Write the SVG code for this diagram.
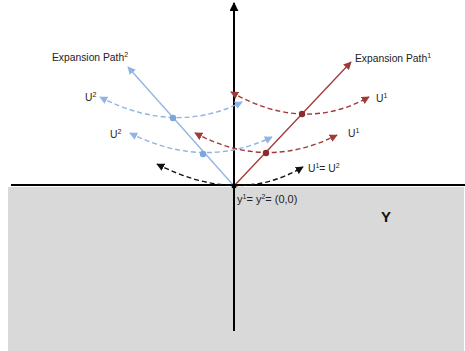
<svg xmlns="http://www.w3.org/2000/svg" width="465" height="351" viewBox="0 0 465 351">
<defs>
<style>
text{font-family:"Liberation Sans",Arial,sans-serif;font-size:10.3px;fill:#222}
.sup{font-size:7px}
.dash{fill:none;stroke-width:1.4;stroke-dasharray:5 3}
.red{stroke:#a0393a}
.blue{stroke:#8fb4e3}
.blk{stroke:#111}
</style>
<marker id="ar" viewBox="0 0 10 10" refX="9" refY="5" markerWidth="8" markerHeight="8" markerUnits="userSpaceOnUse" orient="auto-start-reverse"><path d="M0,0L10,5L0,10z" fill="#a0393a"/></marker>
<marker id="ab" viewBox="0 0 10 10" refX="9" refY="5" markerWidth="8" markerHeight="8" markerUnits="userSpaceOnUse" orient="auto-start-reverse"><path d="M0,0L10,5L0,10z" fill="#8fb4e3"/></marker>
<marker id="ak" viewBox="0 0 10 10" refX="9" refY="5" markerWidth="8" markerHeight="8" markerUnits="userSpaceOnUse" orient="auto-start-reverse"><path d="M0,0L10,5L0,10z" fill="#111"/></marker>
<marker id="axis" viewBox="0 0 10 10" refX="9" refY="5" markerWidth="9" markerHeight="9" markerUnits="userSpaceOnUse" orient="auto"><path d="M0,0L10,5L0,10z" fill="#000"/></marker>
</defs>
<g id="region">
<rect x="8" y="187" width="456" height="164" fill="#d9d9d9"/>
<text x="386" y="222" text-anchor="middle" style="font-size:15px;font-weight:bold;fill:#111">Y</text>
</g>
<g id="axes">
<line x1="11" y1="185" x2="465" y2="185" stroke="#000" stroke-width="2"/>
<line x1="234" y1="331" x2="234" y2="3" stroke="#000" stroke-width="2" marker-end="url(#axis)"/>
</g>
<g id="connectors">
<line x1="234" y1="186" x2="128" y2="67" stroke="#8fb4e3" stroke-width="1.3" marker-end="url(#ab)"/>
<line x1="234" y1="186" x2="351" y2="62" stroke="#a0393a" stroke-width="1.3" marker-end="url(#ar)"/>
<path class="dash red" d="M231,92 Q304,133.5 369,97" marker-start="url(#ar)" marker-end="url(#ar)"/>
<path class="dash red" d="M195,133 Q266,171 337,135" marker-start="url(#ar)" marker-end="url(#ar)"/>
<path class="dash blue" d="M100,97 Q175,135.5 242,102" marker-start="url(#ab)" marker-end="url(#ab)"/>
<path class="dash blue" d="M130,133 Q203.5,170 272,137" marker-start="url(#ab)" marker-end="url(#ab)"/>
<path class="dash blk" d="M157,164 Q238,205.5 303,167" marker-start="url(#ak)" marker-end="url(#ak)"/>
</g>
<g id="points">
<circle cx="173" cy="118" r="3.2" fill="#7aa6dc"/>
<circle cx="203" cy="154" r="3.2" fill="#7aa6dc"/>
<circle cx="302" cy="114" r="3.2" fill="#8e2a2c"/>
<circle cx="266" cy="153" r="3.2" fill="#8e2a2c"/>
<circle cx="234" cy="186" r="2.5" fill="#000"/>
</g>
<g id="labels">
<text x="52" y="61">Expansion Path<tspan class="sup" dy="-4">2</tspan></text>
<text x="355" y="62">Expansion Path<tspan class="sup" dy="-4">1</tspan></text>
<text x="85" y="101">U<tspan class="sup" dy="-4">2</tspan></text>
<text x="110" y="138">U<tspan class="sup" dy="-4">2</tspan></text>
<text x="376" y="102">U<tspan class="sup" dy="-4">1</tspan></text>
<text x="348" y="137">U<tspan class="sup" dy="-4">1</tspan></text>
<text x="308" y="172">U<tspan class="sup" dy="-4">1</tspan><tspan dy="4">= U</tspan><tspan class="sup" dy="-4">2</tspan></text>
<text x="237" y="203" style="font-size:11px">y<tspan class="sup" dy="-4">1</tspan><tspan dy="4">= y</tspan><tspan class="sup" dy="-4">2</tspan><tspan dy="4">= (0,0)</tspan></text>
</g>
</svg>
